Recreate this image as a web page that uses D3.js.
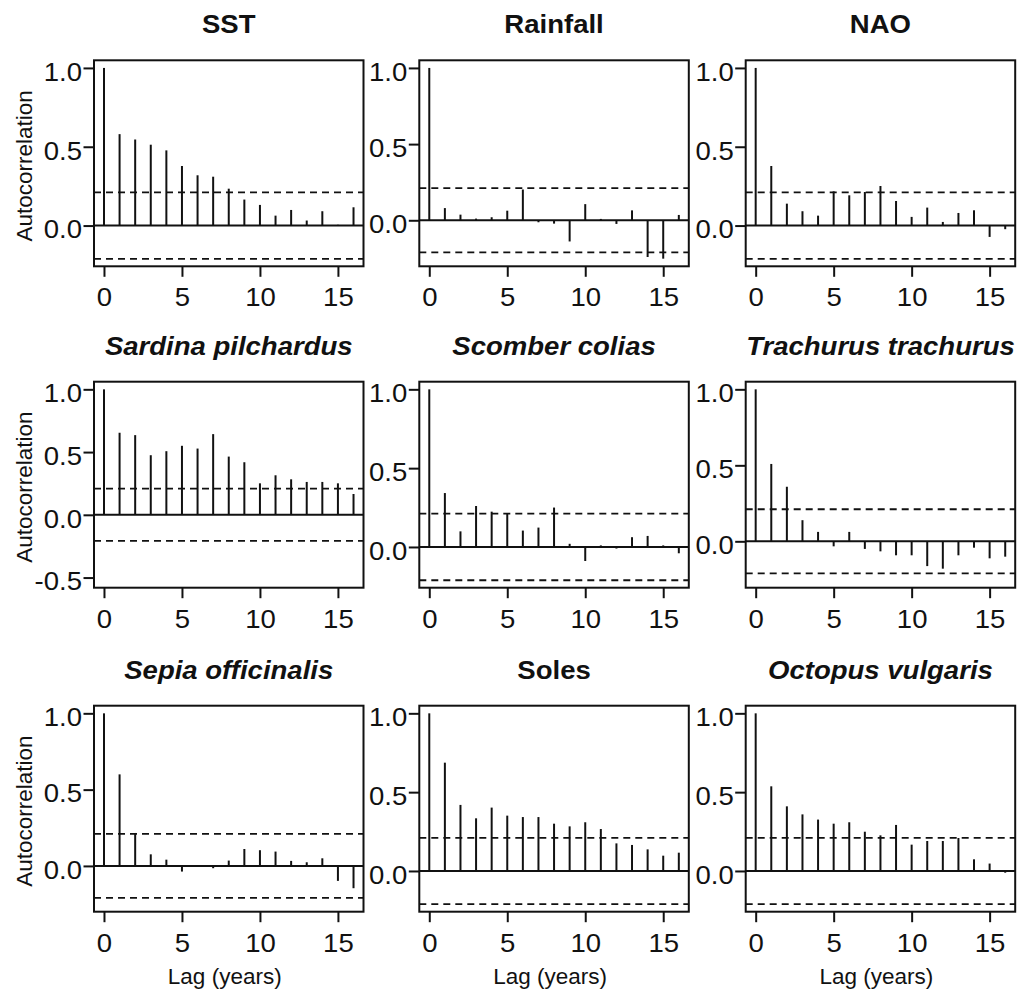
<!DOCTYPE html>
<html>
<head>
<meta charset="utf-8">
<script src="https://cdn.jsdelivr.net/npm/d3@7"></script>
<style>
  html, body { margin: 0; padding: 0; background: #ffffff; }
  svg { display: block; }
</style>
</head>
<body>
<svg id="chart" width="1021" height="990"></svg>
<script>
// Lags shown on every correlogram
const lags = d3.range(0, 17);
const xTickValues = [0, 5, 10, 15];

// Panel titles (species names set in italics)
const panelTitles = ["SST", "Rainfall", "NAO",
  "Sardina pilchardus", "Scomber colias", "Trachurus trachurus",
  "Sepia officinalis", "Soles", "Octopus vulgaris"];
const italicTitles = [false, false, false, true, true, true, true, false, true];

// Autocorrelation at lags 0..16
const acfSST       = [1, 0.58, 0.546, 0.513, 0.477, 0.378, 0.319, 0.31, 0.234, 0.165, 0.131, 0.063, 0.099, 0.032, 0.091, 0.005, 0.116];
const acfRainfall  = [1, 0.08, 0.037, 0.011, 0.02, 0.063, 0.202, -0.013, -0.022, -0.139, 0.106, 0.009, -0.024, 0.065, -0.241, -0.252, 0.035];
const acfNAO       = [1, 0.378, 0.139, 0.091, 0.063, 0.217, 0.192, 0.213, 0.251, 0.156, 0.055, 0.114, 0.023, 0.08, 0.097, -0.072, -0.023];
const acfSardina   = [1, 0.654, 0.635, 0.475, 0.507, 0.55, 0.528, 0.643, 0.464, 0.419, 0.251, 0.315, 0.283, 0.262, 0.262, 0.251, 0.166];
const acfScomber   = [1, 0.342, 0.099, 0.26, 0.224, 0.213, 0.104, 0.123, 0.25, 0.02, -0.089, 0.01, -0.01, 0.062, 0.07, 0.01, -0.04];
const acfTrachurus = [1, 0.509, 0.359, 0.139, 0.062, -0.033, 0.062, -0.05, -0.066, -0.092, -0.092, -0.163, -0.18, -0.092, -0.042, -0.112, -0.101];
const acfSepia     = [1, 0.6, 0.216, 0.076, 0.041, -0.037, 0.003, -0.015, 0.035, 0.111, 0.103, 0.094, 0.033, 0.024, 0.05, -0.098, -0.146];
const acfSoles     = [1, 0.687, 0.419, 0.334, 0.402, 0.351, 0.342, 0.342, 0.3, 0.283, 0.309, 0.266, 0.175, 0.165, 0.137, 0.097, 0.116];
const acfOctopus   = [1, 0.537, 0.41, 0.359, 0.326, 0.3, 0.309, 0.249, 0.226, 0.292, 0.167, 0.19, 0.19, 0.209, 0.074, 0.047, -0.011];

const acfSeries = [acfSST, acfRainfall, acfNAO, acfSardina, acfScomber, acfTrachurus, acfSepia, acfSoles, acfOctopus];

// 95% significance bounds (+/-) for each series
const ciBounds = [0.211, 0.211, 0.211, 0.208, 0.211, 0.211, 0.21, 0.21, 0.21];
// Lower y limit of each panel (upper limit is 1)
const yLower = [-0.21, -0.252, -0.21, -0.52, -0.21, -0.255, -0.25, -0.21, -0.21];

// ---- layout ----
const colLeft = [94, 419.3, 745.7];
const rowTop = [60.3, 381.7, 705.7];
const boxW = 269.5, boxH = 206;
const FONT = "'Liberation Sans', Arial, Helvetica, sans-serif";
const STRETCH = 1.08;

const svg = d3.select("#chart");
svg.append("rect").attr("width", 1021).attr("height", 990).attr("fill", "#ffffff");

panelTitles.forEach((title, i) => {
  const col = i % 3, row = Math.floor(i / 3);
  const left = colLeft[col], top = rowTop[row];
  const values = acfSeries[i];

  const x = d3.scaleLinear().domain([-0.64, 16.64]).range([left, left + boxW]);
  const lo = yLower[i];
  const pad = 0.04 * (1 - lo);
  const y = d3.scaleLinear().domain([lo - pad, 1 + pad]).range([top + boxH, top]);

  const g = svg.append("g");

  // zero line
  g.append("line")
    .attr("x1", left).attr("x2", left + boxW)
    .attr("y1", y(0)).attr("y2", y(0))
    .attr("stroke", "#111").attr("stroke-width", 2);

  // significance bounds
  [ciBounds[i], -ciBounds[i]].forEach(c => {
    g.append("line")
      .attr("x1", left).attr("x2", left + boxW)
      .attr("y1", y(c)).attr("y2", y(c))
      .attr("stroke", "#111").attr("stroke-width", 1.8)
      .attr("stroke-dasharray", "7,5");
  });

  // autocorrelation sticks
  g.selectAll("line.stick")
    .data(lags)
    .join("line")
    .attr("class", "stick")
    .attr("x1", d => x(d)).attr("x2", d => x(d))
    .attr("y1", y(0)).attr("y2", d => y(values[d]))
    .attr("stroke", "#111").attr("stroke-width", 2);

  // frame
  g.append("rect")
    .attr("x", left).attr("y", top)
    .attr("width", boxW).attr("height", boxH)
    .attr("fill", "none").attr("stroke", "#111").attr("stroke-width", 2);

  // x axis
  const xAxis = g.append("g")
    .attr("transform", `translate(0,${top + boxH})`)
    .call(d3.axisBottom(x).tickValues(xTickValues).tickSize(10.5).tickSizeOuter(0).tickFormat(d3.format("d")));
  xAxis.select(".domain").remove();
  xAxis.selectAll(".tick line").attr("stroke", "#111").attr("stroke-width", 2);
  xAxis.selectAll(".tick text")
    .attr("y", 40).attr("dy", null)
    .attr("transform", `scale(${STRETCH},1)`)
    .attr("fill", "#111")
    .style("font-family", FONT).style("font-size", "25.5px");

  // y axis
  const yTicks = [-0.5, 0, 0.5, 1].filter(t => t >= lo - pad && t <= 1 + pad);
  const yAxis = g.append("g")
    .attr("transform", `translate(${left},0)`)
    .call(d3.axisLeft(y).tickValues(yTicks).tickSize(10.5).tickSizeOuter(0).tickFormat(d => d.toFixed(1)));
  yAxis.select(".domain").remove();
  yAxis.selectAll(".tick line").attr("stroke", "#111").attr("stroke-width", 2);
  yAxis.selectAll(".tick text")
    .attr("x", -12 / STRETCH).attr("y", 12.3).attr("dy", null)
    .attr("transform", `scale(${STRETCH},1)`)
    .attr("fill", "#111")
    .style("font-family", FONT).style("font-size", "25.5px");

  // title
  svg.append("text")
    .attr("transform", `translate(${left + boxW / 2},${top - 27}) scale(${STRETCH},1)`)
    .attr("text-anchor", "middle")
    .attr("fill", "#111")
    .style("font-family", FONT).style("font-size", "25.5px")
    .style("font-weight", "bold")
    .style("font-style", italicTitles[i] ? "italic" : "normal")
    .text(title);

  // y axis label on the first column
  if (col === 0) {
    svg.append("text")
      .attr("transform", `translate(31.5,${top + boxH / 2 + 2.5}) rotate(-90)`)
      .attr("text-anchor", "middle")
      .attr("fill", "#111")
      .style("font-family", FONT).style("font-size", "22.5px")
      .text("Autocorrelation");
  }

  // x axis label on the bottom row
  if (row === 2) {
    svg.append("text")
      .attr("x", left + boxW / 2 - 4).attr("y", top + boxH + 72)
      .attr("text-anchor", "middle")
      .attr("fill", "#111")
      .style("font-family", FONT).style("font-size", "22.5px")
      .text("Lag (years)");
  }
});
</script>
</body>
</html>
